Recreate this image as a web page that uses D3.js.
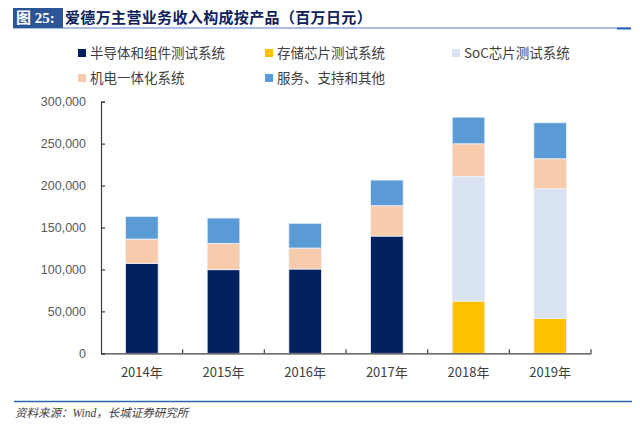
<!DOCTYPE html>
<html>
<head>
<meta charset="utf-8">
<script src="https://cdn.jsdelivr.net/npm/d3@7"></script>
<style>
  body { margin: 0; background: #fff; }
  svg { display: block; }
</style>
</head>
<body>
<svg></svg>
<script>
// Data (millions of yen)
var years = ["2014年", "2015年", "2016年", "2017年", "2018年", "2019年"];
var semiconductor = [107300, 99700, 100500, 139800, 0, 0];
var memory = [0, 0, 0, 0, 62300, 41700];
var soc = [0, 0, 0, 0, 148700, 154500];
var mechatronics = [28900, 31400, 25000, 36200, 38800, 35800];
var services = [27100, 30200, 29500, 30600, 31800, 42900];
var seriesNames = ["半导体和组件测试系统", "存储芯片测试系统", "SoC芯片测试系统", "机电一体化系统", "服务、支持和其他"];
var yTicks = [0, 50000, 100000, 150000, 200000, 250000, 300000];

var colors = ["#002060", "#FFC000", "#DAE3F3", "#F8CBAD", "#5B9BD5"];
var seriesValues = [semiconductor, memory, soc, mechatronics, services];

var width = 640, height = 428;
var svg = d3.select("svg")
    .attr("width", width)
    .attr("height", height);

var cjk = "'Noto Sans CJK SC', 'Noto Sans', sans-serif";

// Title bar
svg.append("line")
    .attr("x1", 13).attr("x2", 631)
    .attr("y1", 28).attr("y2", 28)
    .attr("stroke", "#8FAADC")
    .attr("stroke-width", 1.5);
svg.append("line")
    .attr("x1", 617).attr("x2", 631)
    .attr("y1", 28.5).attr("y2", 28.5)
    .attr("stroke", "#2E64B4")
    .attr("stroke-width", 2);
svg.append("rect")
    .attr("x", 13).attr("y", 8)
    .attr("width", 50).attr("height", 20)
    .attr("fill", "#2B5597");
svg.append("text")
    .attr("x", 16).attr("y", 23)
    .attr("fill", "#fff")
    .style("font-family", "'Liberation Serif', 'Noto Sans CJK SC', serif")
    .style("font-weight", "bold")
    .style("font-size", "15px")
    .text("图 25:");
svg.append("text")
    .attr("x", 65).attr("y", 23)
    .attr("fill", "#0F1F5C")
    .style("font-family", cjk)
    .style("font-weight", "bold")
    .style("font-size", "15px")
    .style("letter-spacing", "0.35px")
    .text("爱德万主营业务收入构成按产品（百万日元）");

// Legend
var legendPos = [[78, 53], [265, 53], [452, 53], [78, 78], [265, 78]];
seriesNames.forEach(function(name, i) {
    var g = svg.append("g")
        .attr("transform", "translate(" + legendPos[i][0] + "," + legendPos[i][1] + ")");
    g.append("rect")
        .attr("x", 0).attr("y", -4)
        .attr("width", 8).attr("height", 8)
        .attr("fill", colors[i]);
    g.append("text")
        .attr("x", 12).attr("y", 0)
        .attr("dy", "0.36em")
        .attr("fill", "#404040")
        .style("font-family", cjk)
        .style("font-size", "13.5px")
        .text(name);
});

// Scales
var x = d3.scaleBand()
    .domain(years)
    .range([101, 591])
    .paddingInner(0.6)
    .paddingOuter(0.3);

var y = d3.scaleLinear()
    .domain([0, 300000])
    .range([353.3, 101.7]);

// Stack the series
var table = years.map(function(yr, i) {
    var row = { year: yr };
    seriesNames.forEach(function(n, k) { row[n] = seriesValues[k][i]; });
    return row;
});
var stacked = d3.stack().keys(seriesNames)(table);

svg.append("g")
    .selectAll("g")
    .data(stacked)
    .enter()
    .append("g")
    .attr("fill", (d, i) => colors[i])
    .selectAll("rect")
    .data(d => d.filter(s => s[1] - s[0] > 0))
    .enter()
    .append("rect")
    .attr("x", d => x(d.data.year))
    .attr("y", d => y(d[1]))
    .attr("width", x.bandwidth())
    .attr("height", d => y(d[0]) - y(d[1]))
    .attr("stroke", "#EEF3FB")
    .attr("stroke-width", 0.8);

// Y axis (ticks pointing inward)
var yAxis = svg.append("g")
    .attr("transform", "translate(101,0)")
    .call(d3.axisLeft(y).tickValues(yTicks).tickSize(-4).tickPadding(15)
        .tickFormat(d3.format(",")));
yAxis.select(".domain").attr("stroke", "#404040").attr("stroke-width", 1.2);
yAxis.selectAll(".tick line").attr("stroke", "#404040").attr("stroke-width", 1.2);
yAxis.selectAll("text")
    .attr("fill", "#595959")
    .style("font-family", "'Liberation Sans', sans-serif")
    .style("font-size", "12.5px");

// X axis: line plus category boundary ticks
var xAxis = svg.append("g")
    .attr("transform", "translate(0," + y(0) + ")")
    .call(d3.axisBottom(x).tickSize(0).tickPadding(14));
xAxis.select(".domain").attr("stroke", "#404040").attr("stroke-width", 1.2);
xAxis.selectAll("text")
    .attr("fill", "#404040")
    .style("font-family", cjk)
    .style("font-size", "13px");
var step = x.step();
years.forEach(function(yr) {
    var bx = x(yr) + x.bandwidth() / 2 + step / 2;
    xAxis.append("line")
        .attr("x1", bx).attr("x2", bx)
        .attr("y1", 0).attr("y2", -4)
        .attr("stroke", "#404040")
        .attr("stroke-width", 1.2);
});

// Footer
svg.append("line")
    .attr("x1", 14).attr("x2", 632)
    .attr("y1", 401.5).attr("y2", 401.5)
    .attr("stroke", "#2E64B4")
    .attr("stroke-width", 1.5);
svg.append("text")
    .attr("x", 15).attr("y", 417)
    .attr("fill", "#404040")
    .style("font-family", "'Liberation Serif', 'Noto Sans CJK SC', serif")
    .style("font-style", "italic")
    .style("font-size", "11.5px")
    .text("资料来源：Wind，长城证券研究所");
</script>
</body>
</html>
